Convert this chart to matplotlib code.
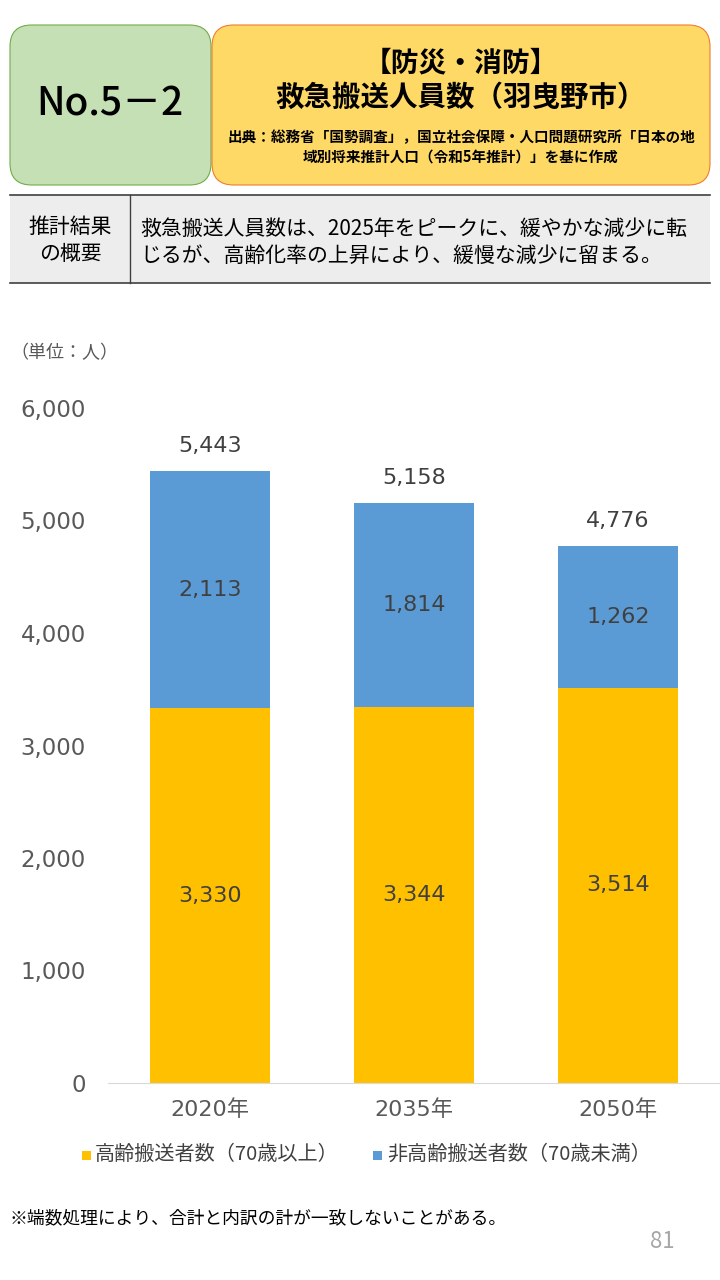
import matplotlib.pyplot as plt
from matplotlib.patches import FancyBboxPatch, Rectangle

plt.rcParams['font.family'] = ['Noto Sans CJK JP', 'DejaVu Sans']

years = ["2020年", "2035年", "2050年"]
elderly = [3330, 3344, 3514]
non_elderly = [2113, 1814, 1262]
totals = [5443, 5158, 4776]
series_names = ["高齢搬送者数（70歳以上）", "非高齢搬送者数（70歳未満）"]
yticks = [0, 1000, 2000, 3000, 4000, 5000, 6000]

yellow = '#FFC000'
blue = '#5B9BD5'
text_grey = '#404040'
num_font = ['DejaVu Sans', 'Noto Sans CJK JP']

fig = plt.figure(figsize=(7.2, 12.8), dpi=100)
W, H = 720, 1280


def fx(x):
    return x / W


def fy(y):
    return 1 - y / H


# header boxes
green_box = FancyBboxPatch((fx(10), fy(185)), fx(201), 160 / H,
                           boxstyle="round,pad=0,rounding_size=0.03",
                           transform=fig.transFigure, facecolor='#C5E0B4',
                           edgecolor='#70AD47', linewidth=0.8, mutation_aspect=720 / 1280)
fig.patches.append(green_box)
yellow_box = FancyBboxPatch((fx(212), fy(185)), fx(498), 160 / H,
                            boxstyle="round,pad=0,rounding_size=0.03",
                            transform=fig.transFigure, facecolor='#FFD966',
                            edgecolor='#ED7D31', linewidth=0.8, mutation_aspect=720 / 1280)
fig.patches.append(yellow_box)

fig.text(fx(110), fy(105), "No.5－2", ha='center', va='center', fontsize=28,
         fontweight='medium', color='black')
fig.text(fx(461), fy(63), "【防災・消防】", ha='center', va='center', fontsize=20,
         fontweight='bold', color='black')
fig.text(fx(461), fy(98), "救急搬送人員数（羽曳野市）", ha='center', va='center', fontsize=20.5,
         fontweight='bold', color='black')
fig.text(fx(461), fy(137), "出典：総務省「国勢調査」，国立社会保障・人口問題研究所「日本の地",
         ha='center', va='center', fontsize=10.5, fontweight='bold', color='black')
fig.text(fx(461), fy(157), "域別将来推計人口（令和5年推計）」を基に作成",
         ha='center', va='center', fontsize=10.5, fontweight='bold', color='black')

# summary table
fig.patches.append(Rectangle((fx(10), fy(283)), fx(700), 88 / H, transform=fig.transFigure,
                             facecolor='#EDEDED', edgecolor='none'))
for y in [195, 283]:
    fig.add_artist(plt.Line2D([fx(10), fx(710)], [fy(y), fy(y)], transform=fig.transFigure,
                              color='#404040', linewidth=1.2))
fig.add_artist(plt.Line2D([fx(130), fx(130)], [fy(195), fy(283)], transform=fig.transFigure,
                          color='#404040', linewidth=1))
fig.text(fx(70), fy(240), "推計結果\nの概要", ha='center', va='center', fontsize=15,
         color='black', linespacing=1.3)
fig.text(fx(140), fy(229), "救急搬送人員数は、2025年をピークに、緩やかな減少に転",
         ha='left', va='center', fontsize=15, color='black')
fig.text(fx(140), fy(256), "じるが、高齢化率の上昇により、緩慢な減少に留まる。",
         ha='left', va='center', fontsize=15, color='black')

fig.text(fx(10), fy(353), "（単位：人）", ha='left', va='center', fontsize=13, color='#595959')

# chart
ax = fig.add_axes([fx(108), fy(1083), fx(612), (1083 - 408) / H])
x = list(range(len(years)))
ax.bar(x, elderly, width=0.588, color=yellow, zorder=2)
ax.bar(x, non_elderly, width=0.588, bottom=elderly, color=blue, zorder=2)

for i in x:
    ax.text(i, elderly[i] / 2, f"{elderly[i]:,}", ha='center', va='center',
            fontsize=16, color=text_grey, family=num_font)
    ax.text(i, elderly[i] + non_elderly[i] / 2, f"{non_elderly[i]:,}", ha='center',
            va='center', fontsize=16, color=text_grey, family=num_font)
    ax.text(i, totals[i] + 220, f"{totals[i]:,}", ha='center', va='center',
            fontsize=16, color=text_grey, family=num_font)

ax.set_xlim(-0.5, 2.5)
ax.set_ylim(0, 6000)
ax.set_yticks(yticks)
ax.set_yticklabels([f"{v:,}" for v in yticks], fontsize=16.5, color='#595959',
                   family=num_font)
ax.set_xticks(x)
ax.set_xticklabels(years, fontsize=16, color='#595959', family=num_font)
ax.tick_params(axis='both', length=0)
ax.tick_params(axis='y', pad=16)
ax.tick_params(axis='x', pad=12)
for side in ['top', 'right', 'left']:
    ax.spines[side].set_visible(False)
ax.spines['bottom'].set_color('#D9D9D9')
ax.patch.set_alpha(0)

# legend
fig.patches.append(Rectangle((fx(82), fy(1160)), fx(9), 9 / H, transform=fig.transFigure,
                             facecolor=yellow, edgecolor='none'))
fig.text(fx(95), fy(1154), series_names[0], ha='left', va='center', fontsize=14.5,
         color='#404040')
fig.patches.append(Rectangle((fx(373), fy(1160)), fx(9), 9 / H, transform=fig.transFigure,
                             facecolor=blue, edgecolor='none'))
fig.text(fx(387), fy(1154), series_names[1], ha='left', va='center', fontsize=14.5,
         color='#404040')

fig.text(fx(10), fy(1218), "※端数処理により、合計と内訳の計が一致しないことがある。",
         ha='left', va='center', fontsize=12.8, color='black')
fig.text(fx(675), fy(1242), "81", ha='right', va='center', fontsize=16, color='#A6A6A6')

fig.savefig('out.png', dpi=100)
